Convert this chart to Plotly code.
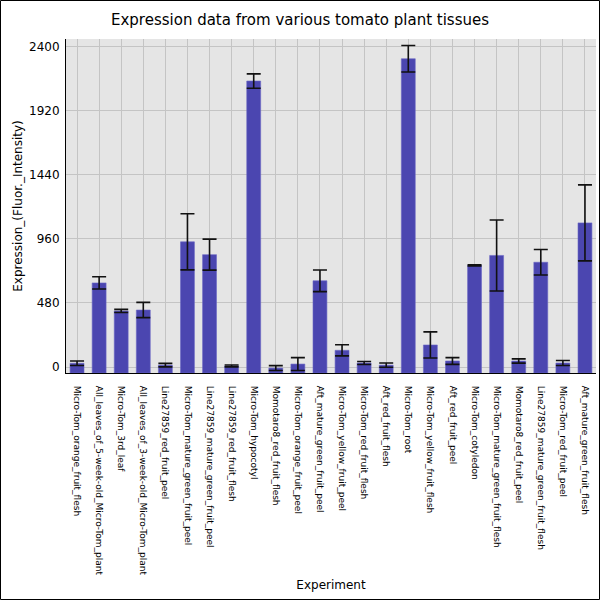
import plotly.graph_objects as go

categories = [
    "Micro-Tom_orange_fruit_flesh",
    "All_leaves_of_5-week-old_Micro-Tom_plant",
    "Micro-Tom_3rd_leaf",
    "All_leaves_of_3-week-old_Micro-Tom_plant",
    "Line27859_red_fruit_peel",
    "Micro-Tom_mature_green_fruit_peel",
    "Line27859_mature_green_fruit_peel",
    "Line27859_red_fruit_flesh",
    "Micro-Tom_hypocotyl",
    "Momotaro8_red_fruit_flesh",
    "Micro-Tom_orange_fruit_peel",
    "Aft_mature_green_fruit_peel",
    "Micro-Tom_yellow_fruit_peel",
    "Micro-Tom_red_fruit_flesh",
    "Aft_red_fruit_flesh",
    "Micro-Tom_root",
    "Micro-Tom_yellow_fruit_flesh",
    "Aft_red_fruit_peel",
    "Micro-Tom_cotyledon",
    "Micro-Tom_mature_green_fruit_flesh",
    "Momotaro8_red_fruit_peel",
    "Line27859_mature_green_fruit_flesh",
    "Micro-Tom_red_fruit_peel",
    "Aft_mature_green_fruit_flesh",
]

values = [28, 630, 420, 427, 14, 938, 842, 8, 2143, -8, 22, 646, 125, 30, 14, 2310,
          165, 45, 762, 836, 45, 785, 30, 1080]
errors = [17, 46, 12, 57, 13, 210, 116, 7, 54, 18, 48, 81, 42, 11, 16, 99,
          98, 25, 4, 266, 16, 96, 19, 285]

y_ticks = [0, 480, 960, 1440, 1920, 2400]
Y_MIN, Y_MAX = -45, 2458

fig = go.Figure()
fig.add_trace(go.Bar(
    x=categories,
    y=[v - Y_MIN for v in values],
    base=Y_MIN,
    marker=dict(color="#4b46b0", line=dict(color="#6a66c4", width=0.6)),
    error_y=dict(type="data", array=errors, visible=True,
                 color="#111111", thickness=1.6, width=7),
))

L, R, T, B = 66, 4, 39, 227
W = H = 600
pw, ph = W - L - R, H - T - B

fig.update_layout(
    width=W, height=H,
    margin=dict(l=L, r=R, t=T, b=B, pad=0),
    paper_bgcolor="white",
    plot_bgcolor="#e5e5e5",
    bargap=0.37,
    showlegend=False,
    font=dict(family="DejaVu Sans", color="black"),
    title=dict(text="Expression data from various tomato plant tissues",
               x=0.5, xanchor="center", y=1 - 20 / H, yanchor="middle",
               font=dict(size=15, family="DejaVu Sans")),
    xaxis=dict(
        tickangle=90, tickfont=dict(size=9),
        showgrid=True, gridcolor="#c4c4c4", gridwidth=1,
        showline=True, linecolor="black", linewidth=1,
        ticks="", ticklabelstandoff=10,
        title=dict(text="Experiment", font=dict(size=12), standoff=6),
        automargin=False,
    ),
    yaxis=dict(
        range=[Y_MIN, Y_MAX], tickvals=y_ticks,
        tickfont=dict(size=12),
        showgrid=True, gridcolor="#c4c4c4", gridwidth=1,
        zeroline=False,
        showline=True, linecolor="black", linewidth=1,
        ticks="", ticklabelstandoff=3,
        title=dict(text="Expression_(Fluor._Intensity)", font=dict(size=12), standoff=3),
        automargin=False,
    ),
)

# page border
fig.add_shape(type="rect", xref="paper", yref="paper",
              x0=(-L + 0.5) / pw, x1=(pw + R - 0.5) / pw,
              y0=(-B + 0.5) / ph, y1=(ph + T - 0.5) / ph,
              line=dict(color="black", width=1), layer="above")

fig.write_html("out.html", config={"displayModeBar": False},
               post_script="document.body.style.margin='0';document.body.style.overflow='hidden';")
